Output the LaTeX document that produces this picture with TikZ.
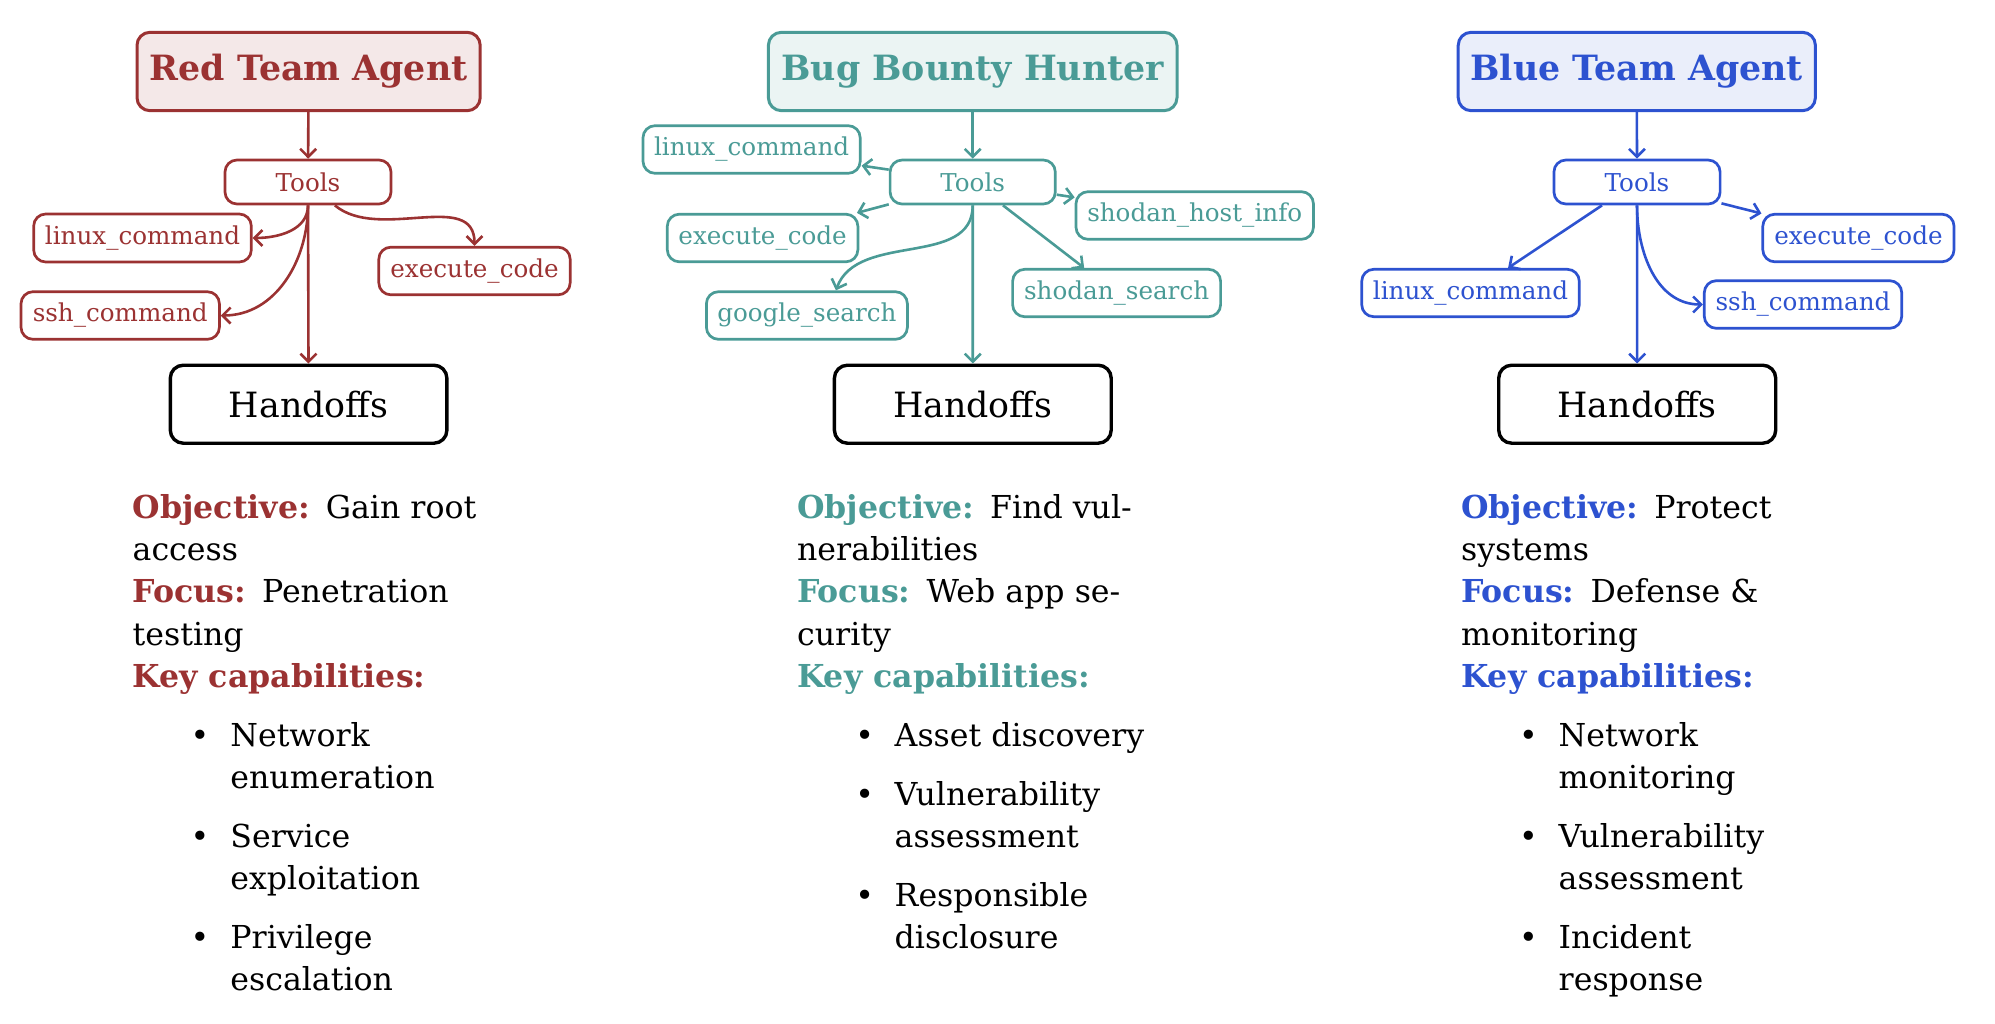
\documentclass[tikz,border=0pt]{standalone}
\usepackage{fontspec}
\setmainfont{DejaVu Serif}
\usetikzlibrary{arrows.meta}
\definecolor{cR}{RGB}{155,50,50}
\definecolor{cT}{RGB}{74,155,150}
\definecolor{cB}{RGB}{45,82,208}
\newcommand\labR[1]{{\bfseries\color{cR}#1}}
\newcommand\labT[1]{{\bfseries\color{cT}#1}}
\newcommand\labB[1]{{\bfseries\color{cB}#1}}
\newcommand\gapp{\hspace{8pt}}
\begin{document}
\begin{tikzpicture}[x=0.5pt,y=0.5pt,
  wh/.style 2 args={minimum width=#1, minimum height=#2},
  box/.style={draw, rounded corners=6.5pt, line width=1.5pt, inner sep=0pt, align=center},
  agent/.style={box, font=\fontsize{17.4}{19}\selectfont\bfseries},
  tool/.style={box, fill=white, line width=1.35pt, rounded corners=6pt, font=\fontsize{12.3}{14}\selectfont},
  hand/.style={box, draw=black, line width=1.7pt, fill=white, font=\fontsize{17.4}{19}\selectfont},
  arr/.style={line width=1.3pt, -{Straight Barb[length=4pt,width=8pt,line width=1.3pt]}},
  bt/.style={anchor=base west, inner sep=0pt, font=\fontsize{15.8}{18}\selectfont},
  bul/.style={anchor=base, inner sep=0pt, font=\fontsize{15.8}{18}\selectfont}
]
\useasboundingbox (0,0) rectangle (1995,-1023);

% ---------------- Red column ----------------
\node[agent, draw=cR, fill=cR!11, text=cR, wh={171.6pt}{39.2pt}] (ra) at (308.6,-71.5) {Red Team Agent};
\node[tool, draw=cR, text=cR, wh={83pt}{22pt}] (rt) at (308,-182) {Tools};
\node[tool, draw=cR, text=cR, wh={108.8pt}{24pt}] (rl) at (142.5,-238) {linux\_command};
\node[tool, draw=cR, text=cR, wh={99.2pt}{23.8pt}] (rs) at (120.2,-315.5) {ssh\_command};
\node[tool, draw=cR, text=cR, wh={95.7pt}{23.8pt}] (re) at (474.5,-271) {execute\_code};
\node[hand, wh={138.3pt}{39pt}] (rh) at (308.6,-404.2) {Handoffs};
\draw[arr, cR] (ra) -- (rt);
\draw[arr, cR] (rt.south) to[out=-90,in=0] (rl.east);
\draw[arr, cR] (rt.south) to[out=-90,in=0] (rs.east);
\draw[arr, cR] (rt.-41) to[out=-40,in=90] (re.north);
\draw[arr, cR] (rt) -- (rh);

% ---------------- Teal column ----------------
\node[agent, draw=cT, fill=cT!11, text=cT, wh={204.3pt}{39.2pt}] (ta) at (972.7,-71.5) {Bug Bounty Hunter};
\node[tool, draw=cT, text=cT, wh={82.6pt}{22pt}] (tt) at (972.7,-182) {Tools};
\node[tool, draw=cT, text=cT, wh={108.6pt}{23.8pt}] (tl) at (751.6,-149.5) {linux\_command};
\node[tool, draw=cT, text=cT, wh={118.7pt}{23.8pt}] (th) at (1194.7,-215.5) {shodan\_host\_info};
\node[tool, draw=cT, text=cT, wh={95.3pt}{23.8pt}] (te) at (762.6,-238) {execute\_code};
\node[tool, draw=cT, text=cT, wh={104pt}{23.7pt}] (ts) at (1116.6,-293) {shodan\_search};
\node[tool, draw=cT, text=cT, wh={100.5pt}{23.8pt}] (tg) at (806.9,-315.5) {google\_search};
\node[hand, wh={138.4pt}{39pt}] (tH) at (972.8,-404.2) {Handoffs};
\draw[arr, cT] (ta) -- (tt);
\draw[arr, cT] (tt) -- (tl);
\draw[arr, cT] (tt) -- (te);
\draw[arr, cT] (tt) -- (th);
\draw[arr, cT] (tt) -- (ts);
\draw[arr, cT] (tt.south) to[out=-90,in=70] ([xshift=14.5pt]tg.north);
\draw[arr, cT] (tt) -- (tH);

% ---------------- Blue column ----------------
\node[agent, draw=cB, fill=cB!10, text=cB, wh={178.6pt}{39.2pt}] (ba) at (1636.8,-71.5) {Blue Team Agent};
\node[tool, draw=cB, text=cB, wh={83.1pt}{22pt}] (bt) at (1637,-182) {Tools};
\node[tool, draw=cB, text=cB, wh={95.6pt}{23.8pt}] (be) at (1858.4,-238) {execute\_code};
\node[tool, draw=cB, text=cB, wh={108.8pt}{23.7pt}] (bl) at (1470.5,-293) {linux\_command};
\node[tool, draw=cB, text=cB, wh={98.7pt}{23.8pt}] (bs) at (1803,-304.5) {ssh\_command};
\node[hand, wh={138.5pt}{39pt}] (bh) at (1637.2,-404.2) {Handoffs};
\draw[arr, cB] (ba) -- (bt);
\draw[arr, cB] (bt) -- (be);
\draw[arr, cB] (bt) -- (bl);
\draw[arr, cB] (bt.south) to[out=-90,in=180] (bs.west);
\draw[arr, cB] (bt) -- (bh);

% ---------------- Body texts ----------------
% red
\node[bt] (r1) at (132.3,-518) {\labR{Objective:}\gapp Gain root};
\node[bt] (r2) at (132.3,-560.3) {access};
\node[bt] (r3) at (132.3,-602.6) {\labR{Focus:}\gapp Penetration};
\node[bt] (r4) at (132.3,-645) {testing};
\node[bt] (r5) at (132.3,-687.3) {\labR{Key capabilities:}};
\node[bul] (rb1) at (200,-746.5) {•};
\node[bt] (ri1) at (230,-746.5) {Network};
\node[bt] (ri1b) at (230,-788.8) {enumeration};
\node[bul] (rb2) at (200,-847.5) {•};
\node[bt] (ri2) at (230,-847.5) {Service};
\node[bt] (ri2b) at (230,-889.8) {exploitation};
\node[bul] (rb3) at (200,-948.5) {•};
\node[bt] (ri3) at (230,-948.5) {Privilege};
\node[bt] (ri3b) at (230,-990.8) {escalation};
% teal
\node[bt] (t1) at (796.7,-518) {\labT{Objective:}\gapp Find vul-};
\node[bt] (t2) at (796.7,-560.3) {nerabilities};
\node[bt] (t3) at (796.7,-602.6) {\labT{Focus:}\gapp Web app se-};
\node[bt] (t4) at (796.7,-645) {curity};
\node[bt] (t5) at (796.7,-687.3) {\labT{Key capabilities:}};
\node[bul] (tb1) at (864.7,-746.5) {•};
\node[bt] (ti1) at (894.3,-746.5) {Asset discovery};
\node[bul] (tb2) at (864.7,-805.2) {•};
\node[bt] (ti2) at (894.3,-805.2) {Vulnerability};
\node[bt] (ti2b) at (894.3,-847.5) {assessment};
\node[bul] (tb3) at (864.7,-906.2) {•};
\node[bt] (ti3) at (894.3,-906.2) {Responsible};
\node[bt] (ti3b) at (894.3,-948.5) {disclosure};
% blue
\node[bt] (b1) at (1460.7,-518) {\labB{Objective:}\gapp Protect};
\node[bt] (b2) at (1460.7,-560.3) {systems};
\node[bt] (b3) at (1460.7,-602.6) {\labB{Focus:}\gapp Defense \&};
\node[bt] (b4) at (1460.7,-645) {monitoring};
\node[bt] (b5) at (1460.7,-687.3) {\labB{Key capabilities:}};
\node[bul] (bb1) at (1528.3,-746.5) {•};
\node[bt] (bi1) at (1558.3,-746.5) {Network};
\node[bt] (bi1b) at (1558.3,-788.8) {monitoring};
\node[bul] (bb2) at (1528.3,-847.5) {•};
\node[bt] (bi2) at (1558.3,-847.5) {Vulnerability};
\node[bt] (bi2b) at (1558.3,-889.8) {assessment};
\node[bul] (bb3) at (1528.3,-948.5) {•};
\node[bt] (bi3) at (1558.3,-948.5) {Incident};
\node[bt] (bi3b) at (1558.3,-990.8) {response};
\end{tikzpicture}
\end{document}
